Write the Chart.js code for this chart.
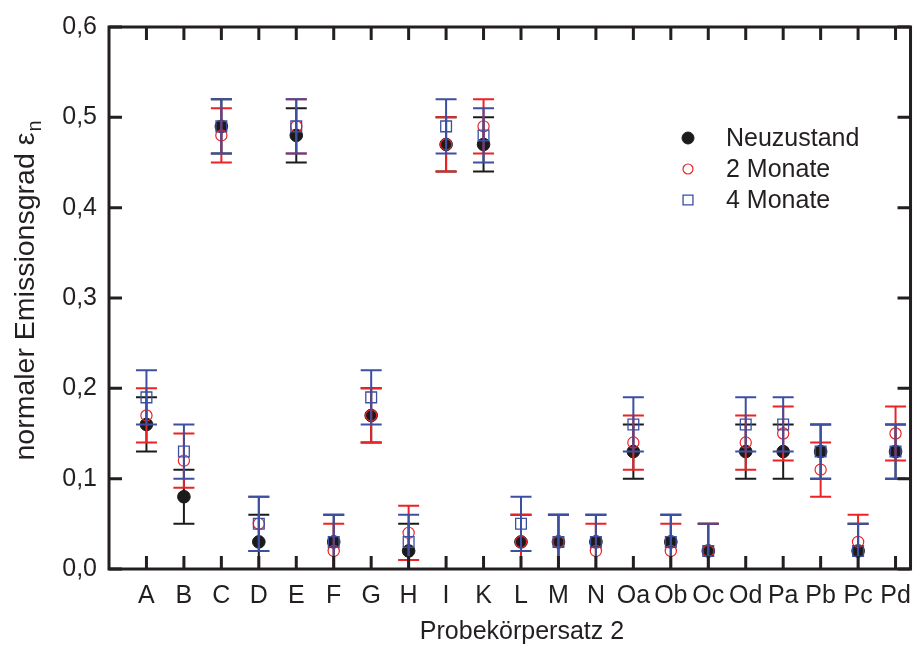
<!DOCTYPE html>
<html>
<head>
<meta charset="utf-8">
<script src="https://cdn.jsdelivr.net/npm/chart.js@4/dist/chart.umd.min.js"></script>
<style>
  html, body { margin: 0; padding: 0; background: #fff; }
  #wrap { width: 923px; height: 645px; }
</style>
</head>
<body>
<div id="wrap"><canvas id="chart"></canvas></div>
<script>
// Probekörpersatz 2 - normal emissivity over time
const categories = ['A', 'B', 'C', 'D', 'E', 'F', 'G', 'H', 'I', 'K', 'L', 'M', 'N', 'Oa', 'Ob', 'Oc', 'Od', 'Pa', 'Pb', 'Pc', 'Pd'];
const neuzustand = [0.16, 0.08, 0.49, 0.03, 0.48, 0.03, 0.17, 0.02, 0.47, 0.47, 0.03, 0.03, 0.03, 0.13, 0.03, 0.02, 0.13, 0.13, 0.13, 0.02, 0.13];
const monate2    = [0.17, 0.12, 0.48, 0.05, 0.49, 0.02, 0.17, 0.04, 0.47, 0.49, 0.03, 0.03, 0.02, 0.14, 0.02, 0.02, 0.14, 0.15, 0.11, 0.03, 0.15];
const monate4    = [0.19, 0.13, 0.49, 0.05, 0.49, 0.03, 0.19, 0.03, 0.49, 0.48, 0.05, 0.03, 0.03, 0.16, 0.03, 0.02, 0.16, 0.16, 0.13, 0.02, 0.13];
const errNeu = 0.03;
const err2M = 0.03;
const err4M = 0.03;
const yTicks = [0, 0.1, 0.2, 0.3, 0.4, 0.5, 0.6];

const INK = '#231f20';
const FONT = '"Liberation Sans", Arial, sans-serif';

function points(values) {
    return values.map((v, i) => ({ x: i + 1, y: v }));
}

// vertical error bars with caps, drawn under each dataset's markers
const errorBars = {
    id: 'errorBars',
    beforeDatasetDraw(chart, args) {
        const ds = chart.data.datasets[args.index];
        const { ctx, chartArea, scales } = chart;
        ctx.save();
        ctx.beginPath();
        ctx.rect(chartArea.left, chartArea.top, chartArea.width, chartArea.height);
        ctx.clip();
        ctx.strokeStyle = ds.barColor;
        ctx.lineWidth = 2;
        args.meta.data.forEach((pt, i) => {
            const v = ds.data[i].y;
            const hi = scales.y.getPixelForValue(v + ds.errorBar);
            const lo = scales.y.getPixelForValue(v - ds.errorBar);
            const cap = 10.5;
            ctx.beginPath();
            ctx.moveTo(pt.x, hi); ctx.lineTo(pt.x, lo);
            ctx.moveTo(pt.x - cap, hi); ctx.lineTo(pt.x + cap, hi);
            ctx.moveTo(pt.x - cap, lo); ctx.lineTo(pt.x + cap, lo);
            ctx.stroke();
        });
        ctx.restore();
    }
};

// closed frame with inward ticks on all four sides
const frame = {
    id: 'frame',
    afterDatasetsDraw(chart) {
        const { ctx, chartArea: a, scales } = chart;
        const len = 13;
        ctx.save();
        ctx.strokeStyle = INK;
        ctx.lineWidth = 3;
        ctx.lineCap = 'butt';
        ctx.strokeRect(a.left, a.top, a.right - a.left, a.bottom - a.top);
        ctx.beginPath();
        categories.forEach((c, i) => {
            const x = scales.x.getPixelForValue(i + 1);
            ctx.moveTo(x, a.top); ctx.lineTo(x, a.top + len);
            ctx.moveTo(x, a.bottom); ctx.lineTo(x, a.bottom - len);
        });
        yTicks.forEach(t => {
            const y = scales.y.getPixelForValue(t);
            ctx.moveTo(a.left, y); ctx.lineTo(a.left + len, y);
            ctx.moveTo(a.right, y); ctx.lineTo(a.right - len, y);
        });
        ctx.stroke();
        ctx.restore();
    }
};

// axis titles (y title needs the subscript n) and the in-plot legend
const annotations = {
    id: 'annotations',
    afterDraw(chart) {
        const { ctx } = chart;
        ctx.save();
        ctx.fillStyle = INK;

        // x title
        ctx.font = '25px ' + FONT;
        ctx.textAlign = 'center';
        ctx.textBaseline = 'middle';
        ctx.fillText('Probekörpersatz 2', 522, 632);

        // y title, rotated
        const main = 'normaler Emissionsgrad ε';
        ctx.save();
        ctx.translate(34, 291);
        ctx.rotate(-Math.PI / 2);
        ctx.textAlign = 'left';
        ctx.textBaseline = 'alphabetic';
        ctx.font = '28.5px ' + FONT;
        const w1 = ctx.measureText(main).width;
        ctx.font = '20px ' + FONT;
        const w2 = ctx.measureText('n').width;
        const start = -(w1 + w2) / 2;
        ctx.font = '28.5px ' + FONT;
        ctx.fillText(main, start, 0);
        ctx.font = '20px ' + FONT;
        ctx.fillText('n', start + w1 + 1, 7);
        ctx.restore();

        // legend
        ctx.font = '25px ' + FONT;
        ctx.textAlign = 'left';
        ctx.textBaseline = 'middle';
        const rows = [138, 169, 200];
        chart.data.datasets.forEach((ds, i) => {
            ctx.save();
            ctx.fillStyle = ds.backgroundColor;
            ctx.strokeStyle = ds.borderColor;
            ctx.lineWidth = ds.borderWidth;
            Chart.helpers.drawPoint(ctx, {
                pointStyle: ds.pointStyle,
                radius: ds.legendRadius,
                rotation: 0,
                borderWidth: ds.borderWidth
            }, 688, rows[i]);
            ctx.restore();
            ctx.fillStyle = INK;
            ctx.fillText(ds.label, 726, rows[i] + 1);
        });
        ctx.restore();
    }
};

Chart.defaults.font.family = FONT;
Chart.defaults.font.size = 25;
Chart.defaults.color = INK;

new Chart(document.getElementById('chart'), {
    type: 'scatter',
    data: {
        datasets: [
            {
                label: 'Neuzustand',
                data: points(neuzustand),
                errorBar: errNeu,
                barColor: '#1b1b1b',
                pointStyle: 'circle',
                pointRadius: 6.3,
                legendRadius: 6,
                backgroundColor: '#1b1b1b',
                borderColor: '#1b1b1b',
                borderWidth: 1,
                order: 3
            },
            {
                label: '2 Monate',
                data: points(monate2),
                errorBar: err2M,
                barColor: '#ec2227',
                pointStyle: 'circle',
                pointRadius: 5.6,
                legendRadius: 5,
                backgroundColor: 'rgba(0,0,0,0)',
                borderColor: '#ec2227',
                borderWidth: 1.2,
                order: 2
            },
            {
                label: '4 Monate',
                data: points(monate4),
                errorBar: err4M,
                barColor: '#3c4fa1',
                pointStyle: 'rect',
                pointRadius: 7.6,
                legendRadius: 7,
                backgroundColor: 'rgba(0,0,0,0)',
                borderColor: '#3c4fa1',
                borderWidth: 1.3,
                order: 1
            }
        ]
    },
    options: {
        responsive: true,
        maintainAspectRatio: false,
        animation: false,
        events: [],
        layout: { padding: { left: 0, top: 24, right: 1, bottom: 0 } },
        plugins: { legend: { display: false }, tooltip: { enabled: false } },
        scales: {
            x: {
                type: 'linear',
                min: 0,
                max: 21.4,
                grid: { display: false, drawTicks: false },
                border: { display: false },
                ticks: {
                    stepSize: 1,
                    includeBounds: false,
                    autoSkip: false,
                    maxRotation: 0,
                    padding: 12,
                    callback: v => (Number.isInteger(v) && categories[v - 1]) || ''
                },
                afterFit: s => { s.height = 76; }
            },
            y: {
                min: 0,
                max: 0.6,
                grid: { display: false, drawTicks: false },
                border: { display: false },
                ticks: {
                    stepSize: 0.1,
                    padding: 12,
                    callback: v => v.toFixed(1).replace('.', ',')
                },
                afterFit: s => { s.width = 109; }
            }
        }
    },
    plugins: [errorBars, frame, annotations]
});
</script>
</body>
</html>
